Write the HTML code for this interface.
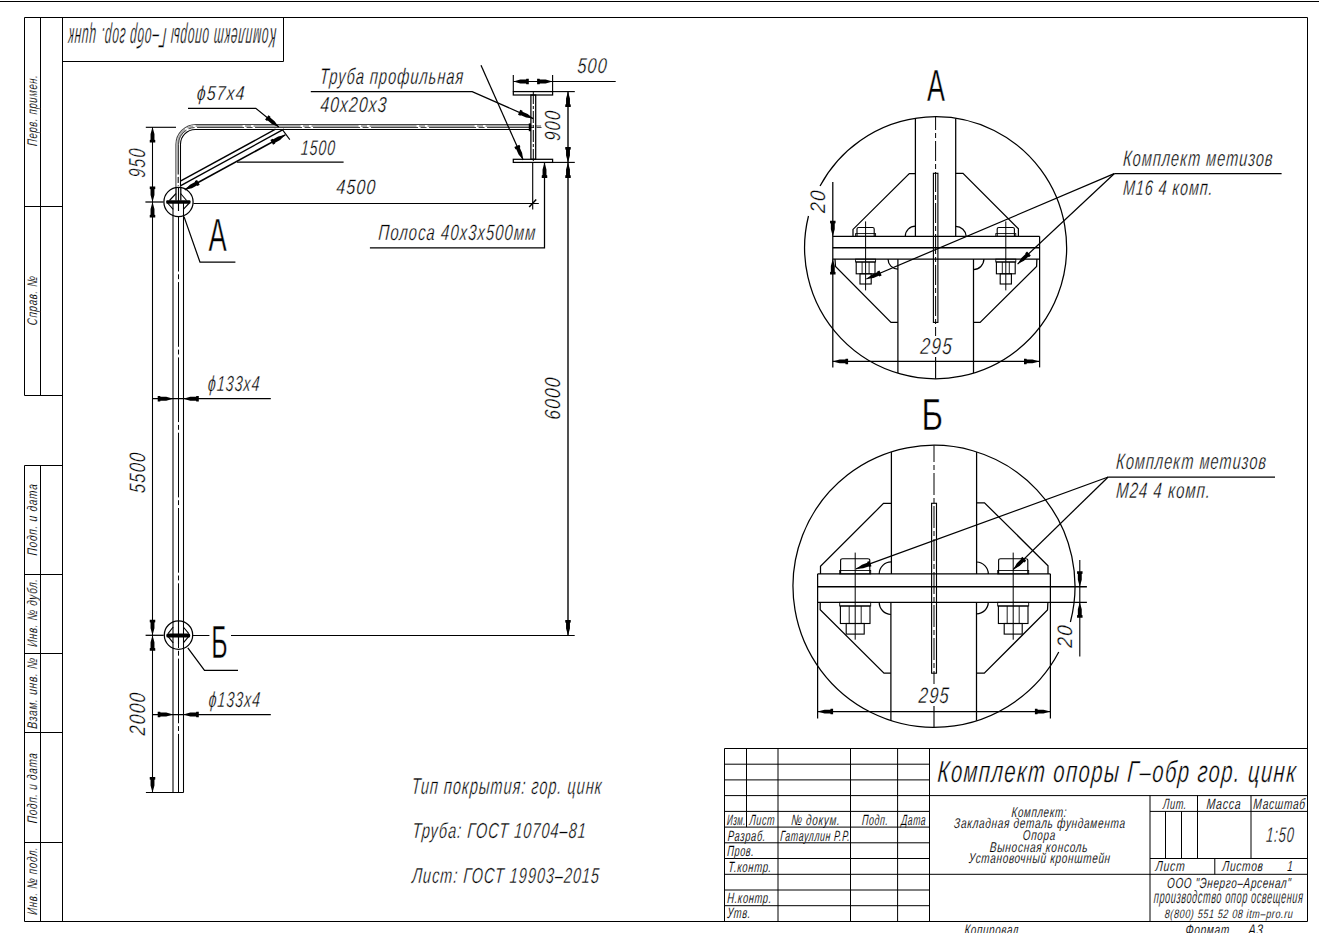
<!DOCTYPE html>
<html><head><meta charset="utf-8"><style>
html,body{margin:0;padding:0;background:#fff;}
svg{display:block;}
.t{font-family:"Liberation Sans",sans-serif;font-style:italic;fill:#000;stroke:#fff;}
.u{font-family:"Liberation Sans",sans-serif;fill:#000;stroke:#fff;}
</style></head><body>
<svg width="1319" height="933" viewBox="0 0 1319 933" stroke-linecap="butt">
<g stroke="#000">
<line x1="0.00" y1="1.50" x2="1319.00" y2="1.50" stroke-width="1.2" />
<line x1="24.50" y1="17.50" x2="1307.50" y2="17.50" stroke-width="1.0" />
<line x1="1307.50" y1="17.50" x2="1307.50" y2="921.50" stroke-width="1.0" />
<line x1="24.50" y1="921.50" x2="1307.50" y2="921.50" stroke-width="1.0" />
<line x1="62.50" y1="17.50" x2="62.50" y2="921.50" stroke-width="1.0" />
<line x1="24.50" y1="17.50" x2="24.50" y2="395.50" stroke-width="1.0" />
<line x1="40.50" y1="17.50" x2="40.50" y2="395.50" stroke-width="1.0" />
<line x1="24.50" y1="465.50" x2="24.50" y2="921.50" stroke-width="1.0" />
<line x1="40.50" y1="465.50" x2="40.50" y2="921.50" stroke-width="1.0" />
<line x1="24.50" y1="206.50" x2="62.50" y2="206.50" stroke-width="1.0" />
<line x1="24.50" y1="395.50" x2="62.50" y2="395.50" stroke-width="1.0" />
<line x1="24.50" y1="465.50" x2="62.50" y2="465.50" stroke-width="1.0" />
<line x1="24.50" y1="574.50" x2="62.50" y2="574.50" stroke-width="1.0" />
<line x1="24.50" y1="653.50" x2="62.50" y2="653.50" stroke-width="1.0" />
<line x1="24.50" y1="732.50" x2="62.50" y2="732.50" stroke-width="1.0" />
<line x1="24.50" y1="842.50" x2="62.50" y2="842.50" stroke-width="1.0" />
<text class="t" stroke-width="0.12" transform="translate(37.20,146.30) rotate(-90) skewX(-4.0)" x="0" y="0" font-size="13.95" textLength="71.53" lengthAdjust="spacingAndGlyphs" letter-spacing="0.98">Перв. примен.</text>
<text class="t" stroke-width="0.12" transform="translate(37.20,325.50) rotate(-90) skewX(-4.0)" x="0" y="0" font-size="13.95" textLength="49.83" lengthAdjust="spacingAndGlyphs" letter-spacing="0.98">Справ. №</text>
<text class="t" stroke-width="0.12" transform="translate(37.20,555.70) rotate(-90) skewX(-4.0)" x="0" y="0" font-size="13.95" textLength="71.93" lengthAdjust="spacingAndGlyphs" letter-spacing="0.98">Подп. и дата</text>
<text class="t" stroke-width="0.12" transform="translate(37.20,647.10) rotate(-90) skewX(-4.0)" x="0" y="0" font-size="13.95" textLength="68.63" lengthAdjust="spacingAndGlyphs" letter-spacing="0.98">Инв. № дубл.</text>
<text class="t" stroke-width="0.12" transform="translate(37.20,729.10) rotate(-90) skewX(-4.0)" x="0" y="0" font-size="13.95" textLength="71.63" lengthAdjust="spacingAndGlyphs" letter-spacing="0.98">Взам. инв. №</text>
<text class="t" stroke-width="0.12" transform="translate(37.20,823.40) rotate(-90) skewX(-4.0)" x="0" y="0" font-size="13.95" textLength="70.63" lengthAdjust="spacingAndGlyphs" letter-spacing="0.98">Подп. и дата</text>
<text class="t" stroke-width="0.12" transform="translate(37.20,915.00) rotate(-90) skewX(-4.0)" x="0" y="0" font-size="13.95" textLength="68.23" lengthAdjust="spacingAndGlyphs" letter-spacing="0.98">Инв. № подл.</text>
<line x1="283.50" y1="17.50" x2="283.50" y2="61.50" stroke-width="1.0" />
<line x1="62.50" y1="61.50" x2="283.50" y2="61.50" stroke-width="1.0" />
<text class="t" transform="translate(276.80,28.40) rotate(180) skewX(-4.0)" x="0" y="0" font-size="28.34" textLength="208.79" lengthAdjust="spacingAndGlyphs" letter-spacing="1.98"  stroke-width="0.42">Комплект опоры Г–обр гор. цинк</text>
<path d="M175.9,186.7 L175.9,144.5 A20,20 0 0 1 195.9,124.5 L529.8,124.5" fill="none" stroke-width="1.06" stroke="#444"/>
<path d="M180.5,186.7 L180.5,144.5 A14.8,14.8 0 0 1 195.3,129.5 L529.8,129.5" fill="none" stroke-width="1.06" />
<path d="M177.9,186 L177.9,144.5 A18.6,18.6 0 0 1 196.5,125.9 L541.5,125.9" fill="none" stroke-width="2.0" stroke="#aaa" stroke-dasharray="47 2.5 6 2.5" stroke-dashoffset="46.4"/>
<path d="M178.5,186 L178.5,144.5 A17,17 0 0 1 195.5,127.5 L541.5,127.5" fill="none" stroke-width="1.0" stroke="#444" stroke-dasharray="47 2.5 6 2.5" stroke-dashoffset="46.4"/>
<line x1="529.90" y1="123.40" x2="529.90" y2="131.20" stroke-width="2.25" />
<line x1="173.00" y1="203.00" x2="173.00" y2="792.50" stroke-width="1.06" />
<line x1="183.50" y1="203.00" x2="183.50" y2="792.50" stroke-width="1.06" />
<line x1="173.00" y1="792.50" x2="183.50" y2="792.50" stroke-width="1.06" />
<line x1="178.50" y1="216.50" x2="178.50" y2="792.50" stroke-width="1.0" stroke-dasharray="64.7 2.8 4.9 2.9" stroke-dashoffset="9.7"/>
<circle cx="178.50" cy="202.00" r="14.60" fill="none" stroke-width="1.25" />
<rect x="166.2" y="200.3" width="24.3" height="3.4" rx="1" fill="#000" stroke="none"/>
<line x1="178.50" y1="187.00" x2="178.50" y2="211.00" stroke-width="1.12" />
<line x1="169.50" y1="200.50" x2="176.00" y2="193.50" stroke-width="1.12" />
<line x1="180.60" y1="193.50" x2="186.60" y2="200.50" stroke-width="1.12" />
<line x1="167.60" y1="203.00" x2="173.20" y2="209.30" stroke-width="1.12" />
<line x1="189.30" y1="203.00" x2="183.30" y2="209.30" stroke-width="1.12" />
<line x1="176.00" y1="186.70" x2="176.00" y2="200.50" stroke-width="1.25" />
<line x1="180.80" y1="186.70" x2="180.80" y2="200.50" stroke-width="1.25" />
<polyline points="184.00,216.60 200.00,262.20 235.40,262.20" fill="none" stroke-width="1.25" />
<text class="u" transform="translate(208.60,251.00)" x="0" y="0" font-size="46.51" textLength="18.20" lengthAdjust="spacingAndGlyphs"  stroke-width="0.50">A</text>
<circle cx="178.50" cy="635.10" r="14.20" fill="none" stroke-width="1.25" />
<rect x="166.3" y="633.4" width="23.9" height="4.0" rx="1.5" fill="#000" stroke="none"/>
<line x1="178.50" y1="621.00" x2="178.50" y2="644.00" stroke-width="1.12" />
<line x1="168.00" y1="633.60" x2="173.20" y2="627.00" stroke-width="1.12" />
<line x1="183.30" y1="627.00" x2="188.80" y2="633.60" stroke-width="1.12" />
<line x1="168.00" y1="636.30" x2="173.20" y2="642.80" stroke-width="1.12" />
<line x1="183.30" y1="642.80" x2="188.80" y2="636.30" stroke-width="1.12" />
<polyline points="187.80,647.80 204.50,670.40 238.00,670.40" fill="none" stroke-width="1.25" />
<text class="u" transform="translate(211.20,658.40)" x="0" y="0" font-size="46.51" textLength="16.40" lengthAdjust="spacingAndGlyphs"  stroke-width="0.50">Б</text>
<line x1="180.80" y1="180.90" x2="275.50" y2="129.20" stroke-width="1.38" />
<line x1="180.80" y1="185.60" x2="283.90" y2="129.20" stroke-width="1.38" />
<line x1="184.80" y1="189.80" x2="285.30" y2="134.85" stroke-width="1.62" />
<polygon points="184.80,189.80 189.97,184.73 195.00,181.97 194.89,181.12 197.06,179.93 199.71,184.75 197.54,185.94 196.88,185.39 191.85,188.15" fill="#000" stroke="none"/>
<polygon points="285.30,134.85 280.13,139.92 275.10,142.68 275.21,143.53 273.04,144.72 270.39,139.90 272.56,138.71 273.22,139.26 278.25,136.50" fill="#000" stroke="none"/>
<line x1="282.40" y1="129.70" x2="289.80" y2="139.60" stroke-width="1.12" />
<line x1="237.00" y1="162.20" x2="343.60" y2="162.20" stroke-width="1.25" />
<text class="t" transform="translate(300.40,154.60) skewX(-4.0)" x="0" y="0" font-size="21.22" textLength="35.21" lengthAdjust="spacingAndGlyphs" letter-spacing="1.49"  stroke-width="0.32">1500</text>
<polyline points="188.00,108.30 255.80,108.30 278.80,127.10" fill="none" stroke-width="1.25" />
<polygon points="278.80,127.10 272.17,124.20 267.73,120.57 266.98,120.99 265.06,119.42 268.54,115.16 270.46,116.73 270.19,117.55 274.63,121.18" fill="#000" stroke="none"/>
<text class="t" transform="translate(196.60,100.00) skewX(-4.0)" x="0" y="0" font-size="20.35" textLength="48.47" lengthAdjust="spacingAndGlyphs" letter-spacing="1.42"  stroke-width="0.30">ϕ57x4</text>
<line x1="145.80" y1="127.30" x2="176.00" y2="127.30" stroke-width="1.12" />
<line x1="145.40" y1="202.00" x2="163.40" y2="202.00" stroke-width="1.25" />
<line x1="193.40" y1="203.50" x2="538.80" y2="203.50" stroke-width="1.06" />
<line x1="152.50" y1="127.00" x2="152.50" y2="792.50" stroke-width="1.06" />
<polygon points="152.50,127.00 154.45,133.97 154.45,139.71 155.25,140.02 155.25,142.50 149.75,142.50 149.75,140.02 150.55,139.71 150.55,133.97" fill="#000" stroke="none"/>
<polygon points="152.50,202.00 150.55,195.03 150.55,189.29 149.75,188.98 149.75,186.50 155.25,186.50 155.25,188.98 154.45,189.29 154.45,195.03" fill="#000" stroke="none"/>
<polygon points="152.50,202.00 154.45,208.97 154.45,214.71 155.25,215.02 155.25,217.50 149.75,217.50 149.75,215.02 150.55,214.71 150.55,208.97" fill="#000" stroke="none"/>
<polygon points="152.50,635.30 150.55,628.32 150.55,622.59 149.75,622.28 149.75,619.80 155.25,619.80 155.25,622.28 154.45,622.59 154.45,628.32" fill="#000" stroke="none"/>
<polygon points="152.50,635.30 154.45,642.27 154.45,648.01 155.25,648.32 155.25,650.80 149.75,650.80 149.75,648.32 150.55,648.01 150.55,642.27" fill="#000" stroke="none"/>
<polygon points="152.50,792.50 150.55,785.52 150.55,779.79 149.75,779.48 149.75,777.00 155.25,777.00 155.25,779.48 154.45,779.79 154.45,785.52" fill="#000" stroke="none"/>
<text class="t" stroke-width="0.40" transform="translate(144.60,178.00) rotate(-90) skewX(-4.0)" x="0" y="0" font-size="23.26" textLength="29.82" lengthAdjust="spacingAndGlyphs" letter-spacing="1.63">950</text>
<text class="t" stroke-width="0.36" transform="translate(144.50,493.60) rotate(-90) skewX(-4.0)" x="0" y="0" font-size="22.38" textLength="41.58" lengthAdjust="spacingAndGlyphs" letter-spacing="1.57">5500</text>
<text class="t" stroke-width="0.36" transform="translate(144.70,735.70) rotate(-90) skewX(-4.0)" x="0" y="0" font-size="22.38" textLength="43.68" lengthAdjust="spacingAndGlyphs" letter-spacing="1.57">2000</text>
<line x1="145.60" y1="635.30" x2="163.70" y2="635.30" stroke-width="1.25" />
<line x1="192.60" y1="635.50" x2="209.40" y2="635.50" stroke-width="1.06" />
<line x1="231.00" y1="635.50" x2="574.70" y2="635.50" stroke-width="1.06" />
<line x1="145.90" y1="792.50" x2="173.00" y2="792.50" stroke-width="1.06" />
<line x1="152.20" y1="398.70" x2="270.80" y2="398.70" stroke-width="1.25" />
<polygon points="173.20,398.70 166.22,400.65 160.49,400.65 160.18,401.45 157.70,401.45 157.70,395.95 160.18,395.95 160.49,396.75 166.22,396.75" fill="#000" stroke="none"/>
<polygon points="183.30,398.70 190.28,396.75 196.01,396.75 196.32,395.95 198.80,395.95 198.80,401.45 196.32,401.45 196.01,400.65 190.28,400.65" fill="#000" stroke="none"/>
<text class="t" transform="translate(207.60,391.00) skewX(-4.0)" x="0" y="0" font-size="21.80" textLength="52.44" lengthAdjust="spacingAndGlyphs" letter-spacing="1.53"  stroke-width="0.34">ϕ133x4</text>
<line x1="152.20" y1="714.50" x2="270.80" y2="714.50" stroke-width="1.25" />
<polygon points="173.20,714.50 166.22,716.45 160.49,716.45 160.18,717.25 157.70,717.25 157.70,711.75 160.18,711.75 160.49,712.55 166.22,712.55" fill="#000" stroke="none"/>
<polygon points="183.30,714.50 190.28,712.55 196.01,712.55 196.32,711.75 198.80,711.75 198.80,717.25 196.32,717.25 196.01,716.45 190.28,716.45" fill="#000" stroke="none"/>
<text class="t" transform="translate(208.20,706.50) skewX(-4.0)" x="0" y="0" font-size="21.80" textLength="52.44" lengthAdjust="spacingAndGlyphs" letter-spacing="1.53"  stroke-width="0.34">ϕ133x4</text>
<text class="t" transform="translate(336.10,194.00) skewX(-4.0)" x="0" y="0" font-size="20.78" textLength="39.99" lengthAdjust="spacingAndGlyphs" letter-spacing="1.45"  stroke-width="0.31">4500</text>
<line x1="532.70" y1="162.50" x2="532.70" y2="209.40" stroke-width="1.12" />
<line x1="529.20" y1="206.90" x2="536.20" y2="199.50" stroke-width="1.5" />
<rect x="513.30" y="91.60" width="39.30" height="3.40" fill="none" stroke-width="1.25" />
<rect x="513.30" y="159.30" width="39.30" height="3.10" fill="none" stroke-width="1.25" />
<rect x="530.90" y="95.00" width="4.80" height="64.30" fill="none" stroke-width="1.25" />
<line x1="533.30" y1="92.00" x2="533.30" y2="162.00" stroke-width="1.0" stroke-dasharray="12 2 3 2" stroke-dashoffset="0"/>
<line x1="513.30" y1="74.90" x2="513.30" y2="91.60" stroke-width="1.12" />
<line x1="552.60" y1="74.90" x2="552.60" y2="91.60" stroke-width="1.12" />
<line x1="513.30" y1="81.50" x2="615.70" y2="81.50" stroke-width="1.12" />
<polygon points="513.30,81.50 520.27,79.55 526.01,79.55 526.32,78.75 528.80,78.75 528.80,84.25 526.32,84.25 526.01,83.45 520.27,83.45" fill="#000" stroke="none"/>
<polygon points="552.60,81.50 545.62,83.45 539.89,83.45 539.58,84.25 537.10,84.25 537.10,78.75 539.58,78.75 539.89,79.55 545.62,79.55" fill="#000" stroke="none"/>
<text class="t" transform="translate(576.90,73.30) skewX(-4.0)" x="0" y="0" font-size="21.51" textLength="30.63" lengthAdjust="spacingAndGlyphs" letter-spacing="1.51"  stroke-width="0.34">500</text>
<line x1="552.60" y1="91.60" x2="574.80" y2="91.60" stroke-width="1.12" />
<line x1="552.60" y1="162.40" x2="574.80" y2="162.40" stroke-width="1.12" />
<line x1="568.00" y1="91.60" x2="568.00" y2="635.50" stroke-width="1.38" />
<polygon points="568.00,91.60 569.95,98.57 569.95,104.31 570.75,104.62 570.75,107.10 565.25,107.10 565.25,104.62 566.05,104.31 566.05,98.57" fill="#000" stroke="none"/>
<polygon points="568.00,162.40 566.05,155.43 566.05,149.69 565.25,149.38 565.25,146.90 570.75,146.90 570.75,149.38 569.95,149.69 569.95,155.43" fill="#000" stroke="none"/>
<polygon points="568.00,162.40 569.95,169.38 569.95,175.11 570.75,175.42 570.75,177.90 565.25,177.90 565.25,175.42 566.05,175.11 566.05,169.38" fill="#000" stroke="none"/>
<polygon points="568.00,635.50 566.05,628.52 566.05,622.79 565.25,622.48 565.25,620.00 570.75,620.00 570.75,622.48 569.95,622.79 569.95,628.52" fill="#000" stroke="none"/>
<text class="t" stroke-width="0.34" transform="translate(559.80,141.30) rotate(-90) skewX(-4.0)" x="0" y="0" font-size="21.80" textLength="31.04" lengthAdjust="spacingAndGlyphs" letter-spacing="1.53">900</text>
<text class="t" stroke-width="0.34" transform="translate(559.90,420.00) rotate(-90) skewX(-4.0)" x="0" y="0" font-size="21.80" textLength="43.14" lengthAdjust="spacingAndGlyphs" letter-spacing="1.53">6000</text>
<polyline points="310.80,91.60 472.20,91.60 533.30,118.60" fill="none" stroke-width="1.25" />
<polygon points="533.30,118.60 526.13,117.56 520.89,115.25 520.28,115.85 518.01,114.85 520.23,109.82 522.50,110.82 522.46,111.68 527.71,114.00" fill="#000" stroke="none"/>
<text class="t" transform="translate(319.60,83.60) skewX(-4.0)" x="0" y="0" font-size="22.38" textLength="144.28" lengthAdjust="spacingAndGlyphs" letter-spacing="1.57"  stroke-width="0.36">Труба профильная</text>
<text class="t" transform="translate(319.90,112.40) skewX(-4.0)" x="0" y="0" font-size="21.66" textLength="67.24" lengthAdjust="spacingAndGlyphs" letter-spacing="1.52"  stroke-width="0.34">40x20x3</text>
<line x1="481.00" y1="65.30" x2="523.20" y2="160.10" stroke-width="1.25" />
<polygon points="523.20,160.10 518.58,154.52 516.25,149.28 515.39,149.32 514.38,147.06 519.41,144.82 520.42,147.09 519.81,147.70 522.14,152.93" fill="#000" stroke="none"/>
<polyline points="369.90,247.80 544.50,247.80 544.50,162.40" fill="none" stroke-width="1.25" />
<polygon points="544.50,162.40 546.45,169.38 546.45,175.11 547.25,175.42 547.25,177.90 541.75,177.90 541.75,175.42 542.55,175.11 542.55,169.38" fill="#000" stroke="none"/>
<text class="t" transform="translate(378.10,240.00) skewX(-4.0)" x="0" y="0" font-size="22.24" textLength="157.77" lengthAdjust="spacingAndGlyphs" letter-spacing="1.56"  stroke-width="0.36">Полоса 40x3x500мм</text>
<text class="t" transform="translate(411.20,794.20) skewX(-4.0)" x="0" y="0" font-size="23.11" textLength="191.01" lengthAdjust="spacingAndGlyphs" letter-spacing="1.62"  stroke-width="0.39">Тип покрытия: гор. цинк</text>
<text class="t" transform="translate(412.00,838.40) skewX(-4.0)" x="0" y="0" font-size="21.80" textLength="174.34" lengthAdjust="spacingAndGlyphs" letter-spacing="1.53"  stroke-width="0.34">Труба: ГОСТ 10704–81</text>
<text class="t" transform="translate(411.70,883.40) skewX(-4.0)" x="0" y="0" font-size="21.80" textLength="187.94" lengthAdjust="spacingAndGlyphs" letter-spacing="1.53"  stroke-width="0.34">Лист: ГОСТ 19903–2015</text>
<defs><clipPath id="ca"><circle cx="935.6" cy="247.7" r="131"/></clipPath><clipPath id="cb"><circle cx="934.0" cy="586.3" r="141"/></clipPath></defs>
<path d="M820.04,186.00 A131.0,131.0 0 1 1 808.49,216.00" fill="none" stroke-width="1.25" />
<text class="u" transform="translate(927.00,100.50)" x="0" y="0" font-size="43.90" textLength="18.00" lengthAdjust="spacingAndGlyphs"  stroke-width="0.50">A</text>
<g clip-path="url(#ca)">
<line x1="915.40" y1="110.00" x2="915.40" y2="236.30" stroke-width="1.25" />
<line x1="955.70" y1="110.00" x2="955.70" y2="236.30" stroke-width="1.25" />
<line x1="935.60" y1="110.00" x2="935.60" y2="336.00" stroke-width="1.0" stroke-dasharray="20 3 5 3" stroke-dashoffset="0"/>
<line x1="935.60" y1="357.00" x2="935.60" y2="380.00" stroke-width="1.12" />
<line x1="897.90" y1="259.10" x2="897.90" y2="385.00" stroke-width="1.25" />
<line x1="973.50" y1="259.10" x2="973.50" y2="385.00" stroke-width="1.25" />
</g>
<rect x="933.40" y="173.30" width="4.50" height="149.10" fill="none" stroke-width="1.12" />
<line x1="832.80" y1="236.30" x2="1039.60" y2="236.30" stroke-width="1.25" />
<line x1="832.80" y1="247.70" x2="1039.60" y2="247.70" stroke-width="1.5" />
<line x1="832.80" y1="259.10" x2="1039.60" y2="259.10" stroke-width="1.25" />
<line x1="1039.60" y1="236.30" x2="1039.60" y2="367.40" stroke-width="1.25" />
<line x1="832.80" y1="182.00" x2="832.80" y2="367.40" stroke-width="1.25" />
<polyline points="915.40,173.50 909.30,173.50 853.00,229.40 853.00,236.30" fill="none" stroke-width="1.25" />
<polyline points="955.70,173.30 963.00,173.30 1018.40,228.80 1018.40,236.30" fill="none" stroke-width="1.25" />
<polyline points="835.00,259.10 835.50,266.50 891.00,322.40 897.90,322.40" fill="none" stroke-width="1.25" />
<polyline points="1036.90,259.10 1036.60,266.50 980.10,322.40 973.50,322.40" fill="none" stroke-width="1.25" />
<path d="M905.3,236.3 A10.1,10.1 0 0 1 915.4,226.2" fill="none" stroke-width="1.25" />
<path d="M955.7,226.5 A10.5,10.5 0 0 1 966.2,236.3" fill="none" stroke-width="1.25" />
<path d="M888.0,259.1 A10,10 0 0 0 897.9,269.1" fill="none" stroke-width="1.25" />
<path d="M973.5,269.5 A10.4,10.4 0 0 0 983.9,259.1" fill="none" stroke-width="1.25" />
<path d="M857.00,236.3 L857.00,229 Q857.00,227.5 858.60,227.5 L872.60,227.5 Q874.20,227.5 874.20,229 L874.20,236.3" fill="none" stroke-width="1.12" />
<rect x="855.60" y="233.60" width="20.00" height="2.70" fill="none" stroke-width="0.88" />
<rect x="855.60" y="259.10" width="20.00" height="2.90" fill="none" stroke-width="0.88" />
<rect x="856.20" y="262.00" width="18.80" height="11.80" fill="none" stroke-width="1.12" />
<line x1="862.10" y1="262.00" x2="862.10" y2="273.80" stroke-width="0.88" />
<line x1="869.10" y1="262.00" x2="869.10" y2="273.80" stroke-width="0.88" />
<rect x="860.00" y="273.80" width="11.20" height="10.20" fill="none" stroke-width="1.12" />
<line x1="865.60" y1="221.40" x2="865.60" y2="290.40" stroke-width="1.0" />
<path d="M997.20,236.3 L997.20,229 Q997.20,227.5 998.80,227.5 L1012.80,227.5 Q1014.40,227.5 1014.40,229 L1014.40,236.3" fill="none" stroke-width="1.12" />
<rect x="995.80" y="233.60" width="20.00" height="2.70" fill="none" stroke-width="0.88" />
<rect x="995.80" y="259.10" width="20.00" height="2.90" fill="none" stroke-width="0.88" />
<rect x="996.40" y="262.00" width="18.80" height="11.80" fill="none" stroke-width="1.12" />
<line x1="1002.30" y1="262.00" x2="1002.30" y2="273.80" stroke-width="0.88" />
<line x1="1009.30" y1="262.00" x2="1009.30" y2="273.80" stroke-width="0.88" />
<rect x="1000.20" y="273.80" width="11.20" height="10.20" fill="none" stroke-width="1.12" />
<line x1="1005.80" y1="221.40" x2="1005.80" y2="290.40" stroke-width="1.0" />
<polygon points="832.80,236.30 830.85,229.33 830.85,223.59 830.05,223.28 830.05,220.80 835.55,220.80 835.55,223.28 834.75,223.59 834.75,229.33" fill="#000" stroke="none"/>
<polygon points="832.80,259.10 834.75,266.08 834.75,271.81 835.55,272.12 835.55,274.60 830.05,274.60 830.05,272.12 830.85,271.81 830.85,266.08" fill="#000" stroke="none"/>
<text class="t" stroke-width="0.32" transform="translate(824.90,213.30) rotate(-90) skewX(-4.0)" x="0" y="0" font-size="21.08" textLength="23.61" lengthAdjust="spacingAndGlyphs" letter-spacing="1.48">20</text>
<line x1="832.60" y1="361.40" x2="1039.50" y2="361.40" stroke-width="1.12" />
<polygon points="832.60,361.40 839.58,359.45 845.31,359.45 845.62,358.65 848.10,358.65 848.10,364.15 845.62,364.15 845.31,363.35 839.58,363.35" fill="#000" stroke="none"/>
<polygon points="1039.50,361.40 1032.53,363.35 1026.79,363.35 1026.48,364.15 1024.00,364.15 1024.00,358.65 1026.48,358.65 1026.79,359.45 1032.53,359.45" fill="#000" stroke="none"/>
<text class="t" transform="translate(920.00,354.10) skewX(-4.0)" x="0" y="0" font-size="23.11" textLength="32.61" lengthAdjust="spacingAndGlyphs" letter-spacing="1.62"  stroke-width="0.39">295</text>
<line x1="1114.20" y1="173.70" x2="866.30" y2="279.00" stroke-width="1.25" />
<line x1="1114.20" y1="173.70" x2="1017.60" y2="264.10" stroke-width="1.25" />
<polygon points="866.30,279.00 871.96,274.48 877.24,272.24 877.21,271.38 879.49,270.41 881.64,275.47 879.36,276.44 878.76,275.83 873.48,278.07" fill="#000" stroke="none"/>
<polygon points="1017.60,264.10 1021.36,257.91 1025.55,253.99 1025.23,253.20 1027.04,251.50 1030.80,255.52 1028.99,257.21 1028.21,256.84 1024.03,260.76" fill="#000" stroke="none"/>
<line x1="1114.20" y1="173.70" x2="1281.60" y2="173.70" stroke-width="1.25" />
<text class="t" transform="translate(1122.80,165.50) skewX(-4.0)" x="0" y="0" font-size="22.53" textLength="150.38" lengthAdjust="spacingAndGlyphs" letter-spacing="1.58"  stroke-width="0.37">Комплект метизов</text>
<text class="t" transform="translate(1122.80,194.60) skewX(-4.0)" x="0" y="0" font-size="21.22" textLength="90.31" lengthAdjust="spacingAndGlyphs" letter-spacing="1.49"  stroke-width="0.32">M16 4 комп.</text>
<path d="M1058.76,652.00 A141.0,141.0 0 1 1 1070.41,622.00" fill="none" stroke-width="1.25" />
<text class="u" transform="translate(921.50,429.80)" x="0" y="0" font-size="45.06" textLength="21.50" lengthAdjust="spacingAndGlyphs"  stroke-width="0.50">Б</text>
<g clip-path="url(#cb)">
<line x1="891.40" y1="440.00" x2="891.40" y2="573.90" stroke-width="1.25" />
<line x1="976.60" y1="440.00" x2="976.60" y2="573.90" stroke-width="1.25" />
<line x1="890.90" y1="602.30" x2="890.90" y2="735.00" stroke-width="1.25" />
<line x1="976.50" y1="602.30" x2="976.50" y2="735.00" stroke-width="1.25" />
<line x1="934.00" y1="440.00" x2="934.00" y2="684.00" stroke-width="1.0" stroke-dasharray="22 3 5 3" stroke-dashoffset="0"/>
<line x1="934.00" y1="706.00" x2="934.00" y2="735.00" stroke-width="1.12" />
</g>
<rect x="931.60" y="503.30" width="4.90" height="169.90" fill="none" stroke-width="1.12" />
<line x1="817.60" y1="573.90" x2="1050.40" y2="573.90" stroke-width="1.25" />
<line x1="817.60" y1="586.70" x2="1086.90" y2="586.70" stroke-width="1.5" />
<line x1="817.60" y1="602.30" x2="1086.90" y2="602.30" stroke-width="1.25" />
<line x1="817.60" y1="573.90" x2="817.60" y2="718.50" stroke-width="1.25" />
<line x1="1050.40" y1="573.90" x2="1050.40" y2="718.50" stroke-width="1.25" />
<polyline points="891.40,503.40 883.50,503.40 820.50,566.30 820.50,573.90" fill="none" stroke-width="1.25" />
<polyline points="976.60,502.80 984.50,502.80 1048.00,565.70 1048.00,573.90" fill="none" stroke-width="1.25" />
<polyline points="820.20,602.30 820.20,609.70 884.00,673.20 890.90,673.20" fill="none" stroke-width="1.25" />
<polyline points="1047.90,602.30 1047.50,610.00 984.30,673.20 976.50,673.20" fill="none" stroke-width="1.25" />
<path d="M879.2,573.9 A12,12 0 0 1 891.4,562.0" fill="none" stroke-width="1.25" />
<path d="M976.6,562.0 A12,12 0 0 1 988.3,573.9" fill="none" stroke-width="1.25" />
<path d="M879.2,602.3 A12.2,12.2 0 0 0 890.9,614.5" fill="none" stroke-width="1.25" />
<path d="M976.5,613.8 A11.7,11.7 0 0 0 988.3,602.3" fill="none" stroke-width="1.25" />
<path d="M840.60,573.9 L840.60,560.5 Q840.60,558.7 842.60,558.7 L867.80,558.7 Q869.80,558.7 869.80,560.5 L869.80,573.9" fill="none" stroke-width="1.12" />
<rect x="839.70" y="570.50" width="31.00" height="3.40" fill="none" stroke-width="0.88" />
<rect x="839.70" y="602.30" width="31.00" height="3.70" fill="none" stroke-width="0.88" />
<rect x="840.40" y="606.00" width="29.60" height="17.50" fill="none" stroke-width="1.12" />
<line x1="849.20" y1="606.00" x2="849.20" y2="623.50" stroke-width="0.88" />
<line x1="861.20" y1="606.00" x2="861.20" y2="623.50" stroke-width="0.88" />
<rect x="846.20" y="623.50" width="18.00" height="10.60" fill="none" stroke-width="1.12" />
<line x1="855.20" y1="552.60" x2="855.20" y2="639.70" stroke-width="1.0" />
<path d="M998.60,573.9 L998.60,560.5 Q998.60,558.7 1000.60,558.7 L1025.80,558.7 Q1027.80,558.7 1027.80,560.5 L1027.80,573.9" fill="none" stroke-width="1.12" />
<rect x="997.70" y="570.50" width="31.00" height="3.40" fill="none" stroke-width="0.88" />
<rect x="997.70" y="602.30" width="31.00" height="3.70" fill="none" stroke-width="0.88" />
<rect x="998.40" y="606.00" width="29.60" height="17.50" fill="none" stroke-width="1.12" />
<line x1="1007.20" y1="606.00" x2="1007.20" y2="623.50" stroke-width="0.88" />
<line x1="1019.20" y1="606.00" x2="1019.20" y2="623.50" stroke-width="0.88" />
<rect x="1004.20" y="623.50" width="18.00" height="10.60" fill="none" stroke-width="1.12" />
<line x1="1013.20" y1="552.60" x2="1013.20" y2="639.70" stroke-width="1.0" />
<line x1="1079.80" y1="560.00" x2="1079.80" y2="656.40" stroke-width="1.12" />
<polygon points="1079.80,586.70 1077.85,579.73 1077.85,573.99 1077.05,573.68 1077.05,571.20 1082.55,571.20 1082.55,573.68 1081.75,573.99 1081.75,579.73" fill="#000" stroke="none"/>
<polygon points="1079.80,602.30 1081.75,609.27 1081.75,615.01 1082.55,615.32 1082.55,617.80 1077.05,617.80 1077.05,615.32 1077.85,615.01 1077.85,609.27" fill="#000" stroke="none"/>
<text class="t" stroke-width="0.32" transform="translate(1071.70,648.00) rotate(-90) skewX(-4.0)" x="0" y="0" font-size="21.08" textLength="23.31" lengthAdjust="spacingAndGlyphs" letter-spacing="1.48">20</text>
<line x1="817.60" y1="711.60" x2="1050.40" y2="711.60" stroke-width="1.12" />
<polygon points="817.60,711.60 824.58,709.65 830.31,709.65 830.62,708.85 833.10,708.85 833.10,714.35 830.62,714.35 830.31,713.55 824.58,713.55" fill="#000" stroke="none"/>
<polygon points="1050.40,711.60 1043.43,713.55 1037.69,713.55 1037.38,714.35 1034.90,714.35 1034.90,708.85 1037.38,708.85 1037.69,709.65 1043.43,709.65" fill="#000" stroke="none"/>
<text class="t" transform="translate(918.30,703.20) skewX(-4.0)" x="0" y="0" font-size="22.38" textLength="31.18" lengthAdjust="spacingAndGlyphs" letter-spacing="1.57"  stroke-width="0.36">295</text>
<line x1="1108.20" y1="477.00" x2="856.00" y2="568.90" stroke-width="1.25" />
<line x1="1108.20" y1="477.00" x2="1013.20" y2="569.50" stroke-width="1.25" />
<polygon points="856.00,568.90 861.89,564.68 867.27,562.72 867.29,561.86 869.62,561.01 871.50,566.18 869.17,567.03 868.61,566.38 863.22,568.34" fill="#000" stroke="none"/>
<polygon points="1013.20,569.50 1016.84,563.24 1020.95,559.24 1020.61,558.45 1022.39,556.72 1026.22,560.66 1024.45,562.39 1023.67,562.03 1019.56,566.03" fill="#000" stroke="none"/>
<line x1="1108.20" y1="477.00" x2="1275.00" y2="477.00" stroke-width="1.25" />
<text class="t" transform="translate(1115.80,468.80) skewX(-4.0)" x="0" y="0" font-size="22.53" textLength="150.88" lengthAdjust="spacingAndGlyphs" letter-spacing="1.58"  stroke-width="0.37">Комплект метизов</text>
<text class="t" transform="translate(1115.80,497.80) skewX(-4.0)" x="0" y="0" font-size="22.09" textLength="94.96" lengthAdjust="spacingAndGlyphs" letter-spacing="1.55"  stroke-width="0.35">M24 4 комп.</text>
<line x1="724.50" y1="748.50" x2="1307.50" y2="748.50" stroke-width="1.0" />
<line x1="724.50" y1="748.50" x2="724.50" y2="921.50" stroke-width="1.0" />
<line x1="724.50" y1="764.20" x2="929.50" y2="764.20" stroke-width="1.0" />
<line x1="724.50" y1="779.90" x2="929.50" y2="779.90" stroke-width="1.0" />
<line x1="724.50" y1="795.60" x2="929.50" y2="795.60" stroke-width="1.0" />
<line x1="724.50" y1="811.40" x2="929.50" y2="811.40" stroke-width="1.0" />
<line x1="724.50" y1="827.10" x2="929.50" y2="827.10" stroke-width="1.0" />
<line x1="724.50" y1="842.80" x2="929.50" y2="842.80" stroke-width="1.0" />
<line x1="724.50" y1="858.50" x2="929.50" y2="858.50" stroke-width="1.0" />
<line x1="724.50" y1="874.30" x2="929.50" y2="874.30" stroke-width="1.0" />
<line x1="724.50" y1="890.00" x2="929.50" y2="890.00" stroke-width="1.0" />
<line x1="724.50" y1="905.70" x2="929.50" y2="905.70" stroke-width="1.0" />
<line x1="746.50" y1="748.50" x2="746.50" y2="827.10" stroke-width="1.0" />
<line x1="778.00" y1="748.50" x2="778.00" y2="921.50" stroke-width="1.0" />
<line x1="850.50" y1="748.50" x2="850.50" y2="921.50" stroke-width="1.0" />
<line x1="897.60" y1="748.50" x2="897.60" y2="921.50" stroke-width="1.0" />
<line x1="929.50" y1="748.50" x2="929.50" y2="921.50" stroke-width="1.0" />
<line x1="929.50" y1="795.60" x2="1307.50" y2="795.60" stroke-width="1.0" />
<line x1="929.50" y1="874.30" x2="1307.50" y2="874.30" stroke-width="1.0" />
<line x1="1150.00" y1="795.60" x2="1150.00" y2="921.50" stroke-width="1.0" />
<line x1="1150.00" y1="811.40" x2="1307.50" y2="811.40" stroke-width="1.0" />
<line x1="1150.00" y1="858.50" x2="1307.50" y2="858.50" stroke-width="1.0" />
<line x1="1165.50" y1="811.40" x2="1165.50" y2="858.50" stroke-width="1.0" />
<line x1="1181.50" y1="811.40" x2="1181.50" y2="858.50" stroke-width="1.0" />
<line x1="1197.50" y1="795.60" x2="1197.50" y2="858.50" stroke-width="1.0" />
<line x1="1251.00" y1="795.60" x2="1251.00" y2="858.50" stroke-width="1.0" />
<line x1="1214.80" y1="858.50" x2="1214.80" y2="874.30" stroke-width="1.0" />
<text class="t" transform="translate(937.10,782.10) skewX(-4.0)" x="0" y="0" font-size="30.52" textLength="359.50" lengthAdjust="spacingAndGlyphs" letter-spacing="2.14"  stroke-width="0.42">Комплект опоры Г–обр гор. цинк</text>
<text class="t" transform="translate(726.70,825.00) skewX(-4.0)" x="0" y="0" font-size="14.83" textLength="19.08" lengthAdjust="spacingAndGlyphs" letter-spacing="1.04"  stroke-width="0.12">Изм.</text>
<text class="t" transform="translate(749.20,825.00) skewX(-4.0)" x="0" y="0" font-size="14.83" textLength="25.78" lengthAdjust="spacingAndGlyphs" letter-spacing="1.04"  stroke-width="0.12">Лист</text>
<text class="t" transform="translate(790.90,825.00) skewX(-4.0)" x="0" y="0" font-size="14.83" textLength="49.18" lengthAdjust="spacingAndGlyphs" letter-spacing="1.04"  stroke-width="0.12">№ докум.</text>
<text class="t" transform="translate(861.80,825.00) skewX(-4.0)" x="0" y="0" font-size="14.83" textLength="26.58" lengthAdjust="spacingAndGlyphs" letter-spacing="1.04"  stroke-width="0.12">Подп.</text>
<text class="t" transform="translate(901.00,825.00) skewX(-4.0)" x="0" y="0" font-size="14.83" textLength="24.98" lengthAdjust="spacingAndGlyphs" letter-spacing="1.04"  stroke-width="0.12">Дата</text>
<text class="t" transform="translate(727.50,840.90) skewX(-4.0)" x="0" y="0" font-size="14.83" textLength="38.28" lengthAdjust="spacingAndGlyphs" letter-spacing="1.04"  stroke-width="0.12">Разраб.</text>
<text class="t" transform="translate(780.00,840.90) skewX(-4.0)" x="0" y="0" font-size="14.83" textLength="70.08" lengthAdjust="spacingAndGlyphs" letter-spacing="1.04"  stroke-width="0.12">Гатауллин Р.Р.</text>
<text class="t" transform="translate(727.00,855.50) skewX(-4.0)" x="0" y="0" font-size="14.83" textLength="27.18" lengthAdjust="spacingAndGlyphs" letter-spacing="1.04"  stroke-width="0.12">Пров.</text>
<text class="t" transform="translate(728.00,871.70) skewX(-4.0)" x="0" y="0" font-size="14.83" textLength="43.68" lengthAdjust="spacingAndGlyphs" letter-spacing="1.04"  stroke-width="0.12">Т.контр.</text>
<text class="t" transform="translate(727.00,903.40) skewX(-4.0)" x="0" y="0" font-size="14.83" textLength="44.68" lengthAdjust="spacingAndGlyphs" letter-spacing="1.04"  stroke-width="0.12">Н.контр.</text>
<text class="t" transform="translate(727.00,918.40) skewX(-4.0)" x="0" y="0" font-size="14.83" textLength="23.78" lengthAdjust="spacingAndGlyphs" letter-spacing="1.04"  stroke-width="0.12">Утв.</text>
<text class="t" transform="translate(1011.30,816.50) skewX(-4.0)" x="0" y="0" font-size="14.24" textLength="55.65" lengthAdjust="spacingAndGlyphs" letter-spacing="1.00"  stroke-width="0.12">Комплект:</text>
<text class="t" transform="translate(953.80,828.40) skewX(-4.0)" x="0" y="0" font-size="14.24" textLength="171.65" lengthAdjust="spacingAndGlyphs" letter-spacing="1.00"  stroke-width="0.12">Закладная деталь фундамента</text>
<text class="t" transform="translate(1022.60,840.30) skewX(-4.0)" x="0" y="0" font-size="14.24" textLength="33.05" lengthAdjust="spacingAndGlyphs" letter-spacing="1.00"  stroke-width="0.12">Опора</text>
<text class="t" transform="translate(989.50,851.90) skewX(-4.0)" x="0" y="0" font-size="14.24" textLength="98.45" lengthAdjust="spacingAndGlyphs" letter-spacing="1.00"  stroke-width="0.12">Выносная консоль</text>
<text class="t" transform="translate(968.60,863.20) skewX(-4.0)" x="0" y="0" font-size="14.24" textLength="141.95" lengthAdjust="spacingAndGlyphs" letter-spacing="1.00"  stroke-width="0.12">Установочный кронштейн</text>
<text class="t" transform="translate(1162.70,808.70) skewX(-4.0)" x="0" y="0" font-size="14.97" textLength="24.09" lengthAdjust="spacingAndGlyphs" letter-spacing="1.05"  stroke-width="0.12">Лит.</text>
<text class="t" transform="translate(1206.20,808.70) skewX(-4.0)" x="0" y="0" font-size="14.97" textLength="34.99" lengthAdjust="spacingAndGlyphs" letter-spacing="1.05"  stroke-width="0.12">Масса</text>
<text class="t" transform="translate(1253.10,808.70) skewX(-4.0)" x="0" y="0" font-size="14.97" textLength="52.39" lengthAdjust="spacingAndGlyphs" letter-spacing="1.05"  stroke-width="0.12">Масштаб</text>
<text class="t" transform="translate(1265.70,842.10) skewX(-4.0)" x="0" y="0" font-size="21.22" textLength="28.71" lengthAdjust="spacingAndGlyphs" letter-spacing="1.49"  stroke-width="0.32">1:50</text>
<text class="t" transform="translate(1155.30,871.20) skewX(-4.0)" x="0" y="0" font-size="14.53" textLength="29.86" lengthAdjust="spacingAndGlyphs" letter-spacing="1.02"  stroke-width="0.12">Лист</text>
<text class="t" transform="translate(1222.00,871.20) skewX(-4.0)" x="0" y="0" font-size="14.53" textLength="41.36" lengthAdjust="spacingAndGlyphs" letter-spacing="1.02"  stroke-width="0.12">Листов</text>
<text class="t" transform="translate(1287.10,871.20) skewX(-4.0)" x="0" y="0" font-size="14.53" textLength="6.16" lengthAdjust="spacingAndGlyphs" letter-spacing="1.02"  stroke-width="0.12">1</text>
<text class="t" transform="translate(1166.80,888.20) skewX(-4.0)" x="0" y="0" font-size="14.53" textLength="124.46" lengthAdjust="spacingAndGlyphs" letter-spacing="1.02"  stroke-width="0.12">ООО "Энерго–Арсенал"</text>
<text class="t" transform="translate(1153.50,903.00) skewX(-4.0)" x="0" y="0" font-size="18.02" textLength="149.75" lengthAdjust="spacingAndGlyphs" letter-spacing="1.26"  stroke-width="0.22">производство опор освещения</text>
<text class="t" transform="translate(1164.40,917.60) skewX(-4.0)" x="0" y="0" font-size="12.21" textLength="128.84" lengthAdjust="spacingAndGlyphs" letter-spacing="0.85"  stroke-width="0.12">8(800) 551 52 08 itm–pro.ru</text>
<text class="t" transform="translate(964.20,935.00) skewX(-4.0)" x="0" y="0" font-size="15.26" textLength="54.60" lengthAdjust="spacingAndGlyphs" letter-spacing="1.07"  stroke-width="0.12">Копировал</text>
<text class="t" transform="translate(1185.20,935.00) skewX(-4.0)" x="0" y="0" font-size="15.26" textLength="44.50" lengthAdjust="spacingAndGlyphs" letter-spacing="1.07"  stroke-width="0.12">Формат</text>
<text class="t" transform="translate(1248.00,935.00) skewX(-4.0)" x="0" y="0" font-size="15.26" textLength="15.40" lengthAdjust="spacingAndGlyphs" letter-spacing="1.07"  stroke-width="0.12">А3</text>
</g>
</svg>
</body></html>
